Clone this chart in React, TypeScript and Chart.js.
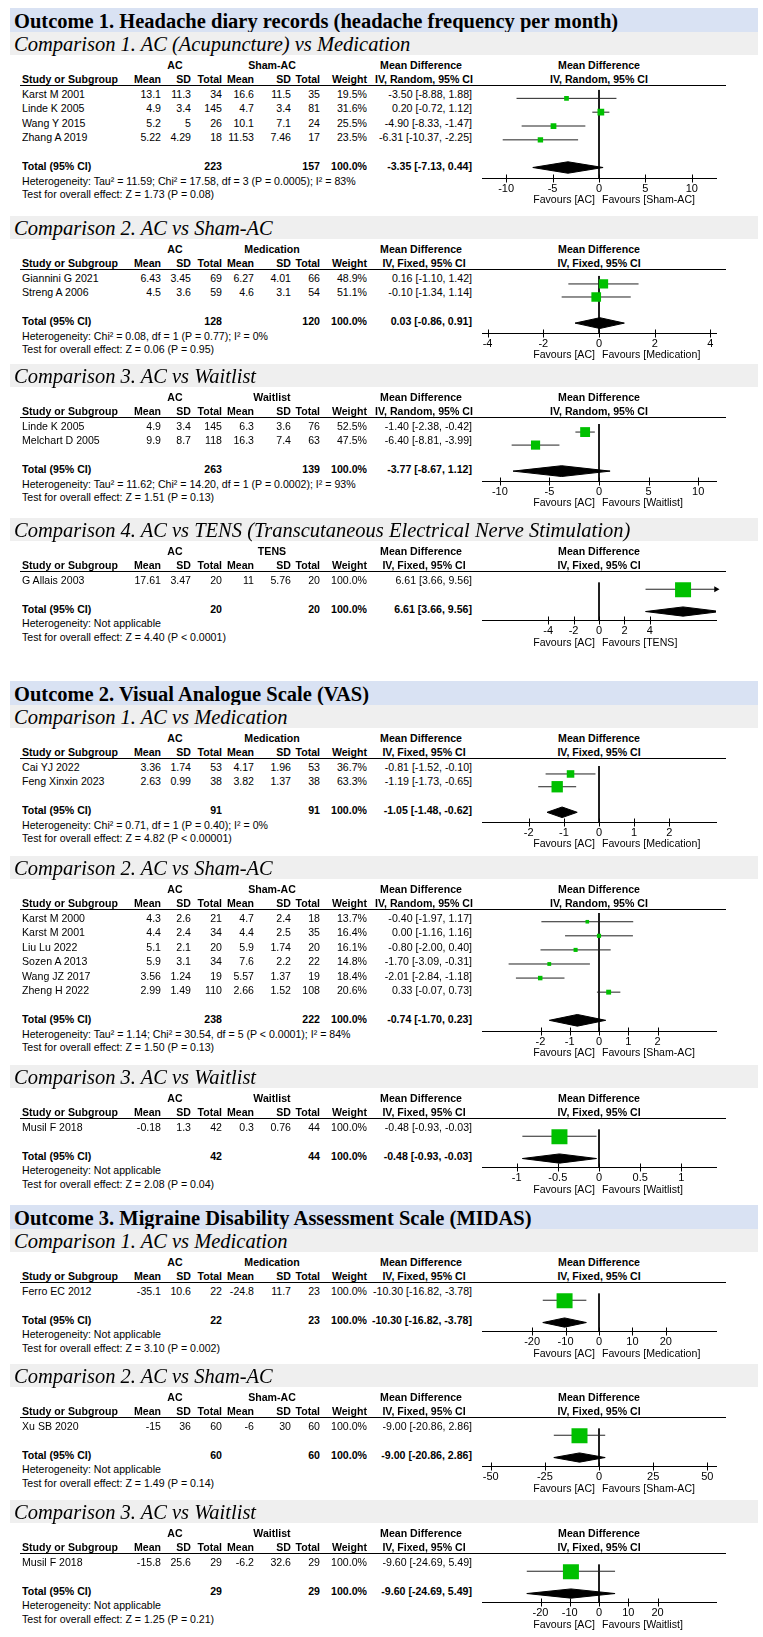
import React, { useEffect, useRef } from "react";
import { Chart, registerables } from "chart.js";

Chart.register(...registerables);

// ---------------- DATA ----------------
const OUTCOME_TITLES = [
  "Outcome 1. Headache diary records (headache frequency per month)",
  "Outcome 2. Visual Analogue Scale (VAS)",
  "Outcome 3. Migraine Disability Assessment Scale (MIDAS)",
];

const COMPARISON_TITLES = [
  "Comparison 1. AC (Acupuncture) vs Medication",
  "Comparison 2. AC vs Sham-AC",
  "Comparison 3. AC vs Waitlist",
  "Comparison 4. AC vs TENS (Transcutaneous Electrical Nerve Stimulation)",
  "Comparison 1. AC vs Medication",
  "Comparison 2. AC vs Sham-AC",
  "Comparison 3. AC vs Waitlist",
  "Comparison 1. AC vs Medication",
  "Comparison 2. AC vs Sham-AC",
  "Comparison 3. AC vs Waitlist",
];

const CONTROL_GROUPS = [
  "Sham-AC", "Medication", "Waitlist", "TENS",
  "Medication", "Sham-AC", "Waitlist",
  "Medication", "Sham-AC", "Waitlist",
];

const METHODS = [
  "IV, Random, 95% CI", "IV, Fixed, 95% CI", "IV, Random, 95% CI", "IV, Fixed, 95% CI",
  "IV, Fixed, 95% CI", "IV, Random, 95% CI", "IV, Fixed, 95% CI",
  "IV, Fixed, 95% CI", "IV, Fixed, 95% CI", "IV, Fixed, 95% CI",
];

// [study, AC mean, AC SD, AC total, ctrl mean, ctrl SD, ctrl total, weight %, MD, lower, upper]
const ROWS_O1C1 = [
  ["Karst M 2001", 13.1, 11.3, 34, 16.6, 11.5, 35, 19.5, -3.5, -8.88, 1.88],
  ["Linde K 2005", 4.9, 3.4, 145, 4.7, 3.4, 81, 31.6, 0.2, -0.72, 1.12],
  ["Wang Y 2015", 5.2, 5, 26, 10.1, 7.1, 24, 25.5, -4.9, -8.33, -1.47],
  ["Zhang A 2019", 5.22, 4.29, 18, 11.53, 7.46, 17, 23.5, -6.31, -10.37, -2.25],
];
const ROWS_O1C2 = [
  ["Giannini G 2021", 6.43, 3.45, 69, 6.27, 4.01, 66, 48.9, 0.16, -1.1, 1.42],
  ["Streng A 2006", 4.5, 3.6, 59, 4.6, 3.1, 54, 51.1, -0.1, -1.34, 1.14],
];
const ROWS_O1C3 = [
  ["Linde K 2005", 4.9, 3.4, 145, 6.3, 3.6, 76, 52.5, -1.4, -2.38, -0.42],
  ["Melchart D 2005", 9.9, 8.7, 118, 16.3, 7.4, 63, 47.5, -6.4, -8.81, -3.99],
];
const ROWS_O1C4 = [
  ["G Allais 2003", 17.61, 3.47, 20, 11, 5.76, 20, 100, 6.61, 3.66, 9.56],
];
const ROWS_O2C1 = [
  ["Cai YJ 2022", 3.36, 1.74, 53, 4.17, 1.96, 53, 36.7, -0.81, -1.52, -0.1],
  ["Feng Xinxin 2023", 2.63, 0.99, 38, 3.82, 1.37, 38, 63.3, -1.19, -1.73, -0.65],
];
const ROWS_O2C2 = [
  ["Karst M 2000", 4.3, 2.6, 21, 4.7, 2.4, 18, 13.7, -0.4, -1.97, 1.17],
  ["Karst M 2001", 4.4, 2.4, 34, 4.4, 2.5, 35, 16.4, 0.0, -1.16, 1.16],
  ["Liu Lu 2022", 5.1, 2.1, 20, 5.9, 1.74, 20, 16.1, -0.8, -2.0, 0.4],
  ["Sozen A 2013", 5.9, 3.1, 34, 7.6, 2.2, 22, 14.8, -1.7, -3.09, -0.31],
  ["Wang JZ 2017", 3.56, 1.24, 19, 5.57, 1.37, 19, 18.4, -2.01, -2.84, -1.18],
  ["Zheng H 2022", 2.99, 1.49, 110, 2.66, 1.52, 108, 20.6, 0.33, -0.07, 0.73],
];
const ROWS_O2C3 = [
  ["Musil F 2018", -0.18, 1.3, 42, 0.3, 0.76, 44, 100, -0.48, -0.93, -0.03],
];
const ROWS_O3C1 = [
  ["Ferro EC 2012", -35.1, 10.6, 22, -24.8, 11.7, 23, 100, -10.3, -16.82, -3.78],
];
const ROWS_O3C2 = [
  ["Xu SB 2020", -15, 36, 60, -6, 30, 60, 100, -9.0, -20.86, 2.86],
];
const ROWS_O3C3 = [
  ["Musil F 2018", -15.8, 25.6, 29, -6.2, 32.6, 29, 100, -9.6, -24.69, 5.49],
];
const STUDY_ROWS: any[][][] = [
  ROWS_O1C1, ROWS_O1C2, ROWS_O1C3, ROWS_O1C4,
  ROWS_O2C1, ROWS_O2C2, ROWS_O2C3,
  ROWS_O3C1, ROWS_O3C2, ROWS_O3C3,
];

// [AC total, ctrl total, MD, lower, upper]
const TOTALS = [
  [223, 157, -3.35, -7.13, 0.44],
  [128, 120, 0.03, -0.86, 0.91],
  [263, 139, -3.77, -8.67, 1.12],
  [20, 20, 6.61, 3.66, 9.56],
  [91, 91, -1.05, -1.48, -0.62],
  [238, 222, -0.74, -1.7, 0.23],
  [42, 44, -0.48, -0.93, -0.03],
  [22, 23, -10.3, -16.82, -3.78],
  [60, 60, -9.0, -20.86, 2.86],
  [29, 29, -9.6, -24.69, 5.49],
];

const HETEROGENEITY = [
  "Heterogeneity: Tau² = 11.59; Chi² = 17.58, df = 3 (P = 0.0005); I² = 83%",
  "Heterogeneity: Chi² = 0.08, df = 1 (P = 0.77); I² = 0%",
  "Heterogeneity: Tau² = 11.62; Chi² = 14.20, df = 1 (P = 0.0002); I² = 93%",
  "Heterogeneity: Not applicable",
  "Heterogeneity: Chi² = 0.71, df = 1 (P = 0.40); I² = 0%",
  "Heterogeneity: Tau² = 1.14; Chi² = 30.54, df = 5 (P < 0.0001); I² = 84%",
  "Heterogeneity: Not applicable",
  "Heterogeneity: Not applicable",
  "Heterogeneity: Not applicable",
  "Heterogeneity: Not applicable",
];

const OVERALL_EFFECT = [
  "Test for overall effect: Z = 1.73 (P = 0.08)",
  "Test for overall effect: Z = 0.06 (P = 0.95)",
  "Test for overall effect: Z = 1.51 (P = 0.13)",
  "Test for overall effect: Z = 4.40 (P < 0.0001)",
  "Test for overall effect: Z = 4.82 (P < 0.00001)",
  "Test for overall effect: Z = 1.50 (P = 0.13)",
  "Test for overall effect: Z = 2.08 (P = 0.04)",
  "Test for overall effect: Z = 3.10 (P = 0.002)",
  "Test for overall effect: Z = 1.49 (P = 0.14)",
  "Test for overall effect: Z = 1.25 (P = 0.21)",
];

const AXIS_TICKS = [
  [-10, -5, 0, 5, 10],
  [-4, -2, 0, 2, 4],
  [-10, -5, 0, 5, 10],
  [-4, -2, 0, 2, 4],
  [-2, -1, 0, 1, 2],
  [-2, -1, 0, 1, 2],
  [-1, -0.5, 0, 0.5, 1],
  [-20, -10, 0, 10, 20],
  [-50, -25, 0, 25, 50],
  [-20, -10, 0, 10, 20],
];
// half-width of each axis (axis runs from -limit to +limit)
const AXIS_LIMITS = [12.6, 4.2, 11.8, 9.2, 3.33, 4, 1.42, 35, 54, 40];

// ---------------- LAYOUT ----------------
const OUTCOME_TOPS = [8, 681, 1205];
const BLOCK_TOPS = [32, 216, 364, 518, 705, 856, 1065, 1229, 1364, 1500];
const PITCH = 14.5;
const AXIS_H = 18;
const PLOT_CANVAS_LEFT = 470;
const PLOT_CANVAS_W = 260;
const PLOT_PAD_L = 12;
const PLOT_PAD_R = 14;
const ZERO_X = 599;

const SANS = '"Liberation Sans", Arial, Helvetica, sans-serif';
const SERIF = '"Liberation Serif", "Times New Roman", serif';
const TABLE_SIZE = 11.4;
const SQUEEZE = 0.93;

const COL_RIGHT = [161, 191, 222, 254, 291, 320, 367];
const CI_RIGHT = 472;
const STUDY_LEFT = 22;

function squareSide(w: number) {
  return 16 * Math.pow(w / 100, 0.75);
}

function fmtCI(md: number, lo: number, hi: number) {
  return `${md.toFixed(2)} [${lo.toFixed(2)}, ${hi.toFixed(2)}]`;
}

type TProps = {
  x: number;
  y: number;
  text: string;
  align?: "left" | "right" | "center";
  bold?: boolean;
  size?: number;
  family?: string;
  italic?: boolean;
  lh?: number;
  squeeze?: number;
};

function T({ x, y, text, align = "left", bold = false, size = TABLE_SIZE, family = SANS, italic = false, lh = 13, squeeze = SQUEEZE }: TProps) {
  const w = 400;
  let left = x;
  if (align === "right") left = x - w;
  if (align === "center") left = x - w / 2;
  return (
    <div
      style={{
        position: "absolute",
        left,
        top: y - lh / 2,
        width: w,
        textAlign: align,
        whiteSpace: "nowrap",
        fontFamily: family,
        fontSize: size,
        fontWeight: bold ? "bold" : "normal",
        fontStyle: italic ? "italic" : "normal",
        lineHeight: `${lh}px`,
        color: "#000",
        transform: squeeze !== 1 ? `scaleX(${squeeze})` : undefined,
        transformOrigin: align === "left" ? "left center" : align === "right" ? "right center" : "center center",
      }}
    >
      {text}
    </div>
  );
}

const tickCross = {
  id: "tickCross",
  afterDraw(chart: any) {
    const s = chart.scales.x;
    const y = Math.round(chart.chartArea.bottom) + 0.5;
    const ctx = chart.ctx;
    ctx.save();
    ctx.strokeStyle = "#000";
    ctx.lineWidth = 1;
    ctx.beginPath();
    for (const t of s.ticks) {
      const px = Math.round(s.getPixelForValue(t.value)) + 0.5;
      ctx.moveTo(px, y - 4);
      ctx.lineTo(px, y + 4);
    }
    ctx.stroke();
    ctx.restore();
  },
};

function ForestChart({ idx, line, firstRow, total, axis }: { idx: number; line: number; firstRow: number; total: number; axis: number }) {
  const ref = useRef<HTMLCanvasElement>(null);
  const h = Math.round(axis - line) + AXIS_H;
  useEffect(() => {
    if (!ref.current) return;
    const rows = STUDY_ROWS[idx];
    const limit = AXIS_LIMITS[idx];
    const ticks = AXIS_TICKS[idx];
    const [, , est, tlo, thi] = TOTALS[idx];
    const yMin = -(firstRow - line) / PITCH;
    const yMax = (axis - firstRow) / PITCH;
    const yTot = (total - firstRow) / PITCH;
    const dh = 6 / PITCH;

    const datasets: any[] = [];
    datasets.push({
      data: [{ x: 0, y: yMin }, { x: 0, y: yMax }],
      showLine: true,
      borderColor: "#000",
      borderWidth: 1,
      pointRadius: 0,
      order: 10,
    });
    rows.forEach((r: any[], i: number) => {
      const lo = Math.max(r[9], -limit);
      const hi = Math.min(r[10], limit);
      datasets.push({
        data: [{ x: lo, y: i }, { x: hi, y: i }],
        showLine: true,
        borderColor: "#222",
        borderWidth: 1,
        pointRadius: 0,
        order: 5,
      });
      if (r[10] > limit) {
        datasets.push({
          data: [{ x: limit, y: i }],
          pointStyle: "triangle",
          pointRotation: 90,
          pointRadius: 3.5,
          backgroundColor: "#000",
          borderColor: "#000",
          borderWidth: 0,
          clip: false,
          order: 4,
        });
      }
    });
    datasets.push({
      data: rows.map((r: any[], i: number) => ({ x: r[8], y: i })),
      pointStyle: "rect",
      pointRadius: rows.map((r: any[]) => squareSide(r[7]) / Math.SQRT2),
      backgroundColor: "#00c000",
      borderColor: "#00b000",
      borderWidth: 0,
      order: 1,
    });
    datasets.push({
      data: [
        { x: tlo, y: yTot },
        { x: est, y: yTot - dh },
        { x: thi, y: yTot },
        { x: est, y: yTot + dh },
        { x: tlo, y: yTot },
      ],
      showLine: true,
      fill: "shape",
      backgroundColor: "#000",
      borderColor: "#000",
      borderWidth: 1,
      pointRadius: 0,
      tension: 0,
      order: 2,
    });

    const chart = new Chart(ref.current, {
      type: "scatter",
      data: { datasets },
      options: {
        animation: false,
        responsive: false,
        maintainAspectRatio: false,
        events: [],
        layout: { padding: { left: PLOT_PAD_L, right: PLOT_PAD_R, top: 0, bottom: 0 } },
        plugins: { legend: { display: false }, tooltip: { enabled: false } },
        scales: {
          x: {
            type: "linear",
            min: -limit,
            max: limit,
            afterBuildTicks: (s: any) => {
              s.ticks = ticks.map((v) => ({ value: v }));
            },
            afterFit: (s: any) => {
              s.height = AXIS_H;
            },
            grid: { display: false, drawTicks: false, tickLength: 0 },
            border: { display: true, color: "#000", width: 1 },
            ticks: {
              color: "#000",
              font: { family: SANS, size: 11 },
              padding: 4,
              autoSkip: false,
              maxRotation: 0,
              callback: (v: any) => String(v),
            },
          },
          y: {
            type: "linear",
            display: false,
            min: yMin,
            max: yMax,
            reverse: true,
          },
        },
      } as any,
      plugins: [tickCross],
    });
    return () => chart.destroy();
  }, [idx, line, firstRow, total, axis]);

  return (
    <canvas
      ref={ref}
      width={PLOT_CANVAS_W}
      height={h}
      style={{ position: "absolute", left: PLOT_CANVAS_LEFT, top: Math.round(line), width: PLOT_CANVAS_W, height: h }}
    />
  );
}

function Block({ idx }: { idx: number }) {
  const B = BLOCK_TOPS[idx];
  const rows = STUDY_ROWS[idx];
  const n = rows.length;
  const line = B + 53;
  const firstRow = B + 62;
  const total = firstRow + (n - 1) * PITCH + 29;
  const axis = total + 11;
  const h1 = B + 33;
  const h2 = B + 47;
  const tot = TOTALS[idx];
  const ctrl = CONTROL_GROUPS[idx];
  const method = METHODS[idx];

  return (
    <>
      <div style={{ position: "absolute", left: 10, top: B, width: 748, height: 23, background: "#efefef" }} />
      <T x={14} y={B + 12} text={COMPARISON_TITLES[idx]} family={SERIF} size={20.5} italic lh={24} squeeze={1} />

      <T x={175} y={h1} text="AC" align="center" bold />
      <T x={272} y={h1} text={ctrl} align="center" bold />
      <T x={421} y={h1} text="Mean Difference" align="center" bold />
      <T x={ZERO_X} y={h1} text="Mean Difference" align="center" bold />

      <T x={STUDY_LEFT} y={h2} text="Study or Subgroup" bold />
      {["Mean", "SD", "Total", "Mean", "SD", "Total", "Weight"].map((t, i) => (
        <T key={i} x={COL_RIGHT[i]} y={h2} text={t} align="right" bold />
      ))}
      <T x={424} y={h2} text={method} align="center" bold />
      <T x={ZERO_X} y={h2} text={method} align="center" bold />
      <div style={{ position: "absolute", left: 20, top: line, width: 706, height: 1, background: "#000" }} />

      {rows.map((r: any[], i: number) => {
        const y = firstRow + i * PITCH;
        return (
          <React.Fragment key={i}>
            <T x={STUDY_LEFT} y={y} text={r[0]} />
            {[1, 2, 3, 4, 5, 6].map((k, j) => (
              <T key={k} x={COL_RIGHT[j]} y={y} text={String(r[k])} align="right" />
            ))}
            <T x={COL_RIGHT[6]} y={y} text={`${r[7].toFixed(1)}%`} align="right" />
            <T x={CI_RIGHT} y={y} text={fmtCI(r[8], r[9], r[10])} align="right" />
          </React.Fragment>
        );
      })}

      <T x={STUDY_LEFT} y={total} text="Total (95% CI)" bold />
      <T x={COL_RIGHT[2]} y={total} text={String(tot[0])} align="right" bold />
      <T x={COL_RIGHT[5]} y={total} text={String(tot[1])} align="right" bold />
      <T x={COL_RIGHT[6]} y={total} text="100.0%" align="right" bold />
      <T x={CI_RIGHT} y={total} text={fmtCI(tot[2], tot[3], tot[4])} align="right" bold />
      <T x={STUDY_LEFT} y={total + 14.5} text={HETEROGENEITY[idx]} />
      <T x={STUDY_LEFT} y={total + 28} text={OVERALL_EFFECT[idx]} />

      <ForestChart idx={idx} line={line} firstRow={firstRow} total={total} axis={axis} />

      <T x={ZERO_X - 4} y={total + 33} text="Favours [AC]" align="right" />
      <T x={ZERO_X + 3} y={total + 33} text={`Favours [${ctrl}]`} />
    </>
  );
}

export default function App() {
  return (
    <div style={{ position: "absolute", left: 0, top: 0, width: 763, height: 1637, background: "#fff", overflow: "hidden" }}>
      {OUTCOME_TOPS.map((t, i) => (
        <React.Fragment key={i}>
          <div style={{ position: "absolute", left: 10, top: t, width: 748, height: 24, background: "#d9e2f3" }} />
          <T x={14} y={t + 13} text={OUTCOME_TITLES[i]} family={SERIF} size={20.5} bold lh={24} squeeze={1} />
        </React.Fragment>
      ))}
      {BLOCK_TOPS.map((_, i) => (
        <Block key={i} idx={i} />
      ))}
    </div>
  );
}
